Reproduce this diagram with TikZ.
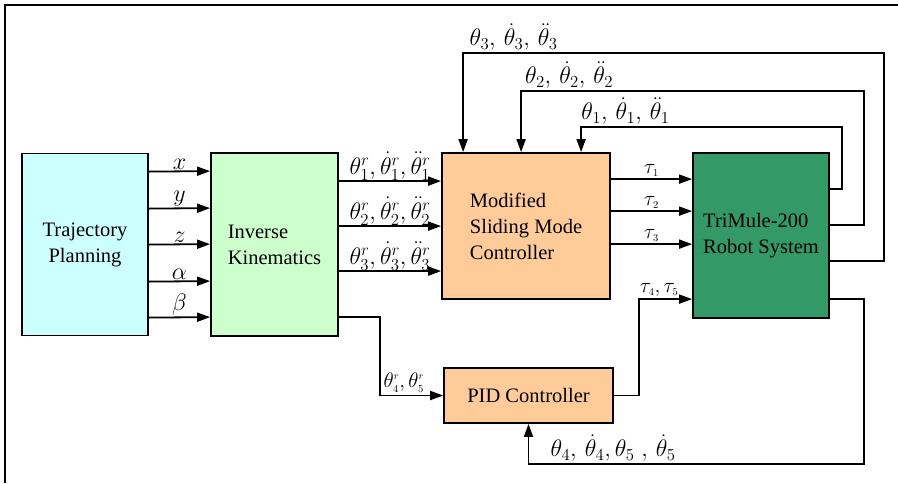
\RequirePackage{fix-cm}
\documentclass[tikz,border=0pt]{standalone}
\usepackage{fontspec}
\setmainfont{Liberation Serif}
\usepackage{tikz}
\usetikzlibrary{arrows.meta}
\definecolor{plancyan}{HTML}{CCFFFF}
\definecolor{ikgreen}{HTML}{CCFFCC}
\definecolor{ctrlorange}{HTML}{FFCC99}
\definecolor{robotgreen}{HTML}{339966}

\begin{document}
\begin{tikzpicture}[x=1pt,y=-1pt,
  blk/.style={draw,line width=1.8pt,inner sep=0pt,font=\fontsize{20.5}{26}\selectfont},
  arr/.style={line width=1.8pt,-{Triangle[length=13pt,width=9pt]}},
  lbl/.style={font=\fontsize{24}{26}\selectfont,inner sep=2pt},
  slbl/.style={font=\fontsize{21}{22}\selectfont,inner sep=2pt}]
\useasboundingbox (0,0) rectangle (898,483);
\draw[line width=2.8pt] (5,483) -- (5,5) -- (898,5);
\node[blk,fill=plancyan,minimum width=126pt,minimum height=182pt,align=center] (plan) at (85,244.5) {Trajectory\\Planning};
\node[blk,fill=ikgreen,minimum width=127pt,minimum height=183pt,align=left] (ik) at (274.5,244.5) {Inverse\\Kinematics};
\node[blk,fill=ctrlorange,minimum width=168pt,minimum height=146pt,align=left] (smc) at (526,226) {Modified\\Sliding Mode\\Controller};
\node[blk,fill=robotgreen,minimum width=136pt,minimum height=165pt,align=left] (robot) at (761,235.5) {TriMule-200\\Robot System};
\node[blk,fill=ctrlorange,minimum width=169pt,minimum height=55pt] (pid) at (528.5,395.5) {PID Controller};
\foreach \dy/\lab in {19/x,56/y,92/z,129/\alpha,165/\beta}
  \draw[arr] ([yshift=-\dy pt]plan.north east) -- node[lbl,above,inner sep=1pt]{$\lab$} ([yshift=-\dy pt]ik.north west);
\foreach \dy/\k in {29/1,74/2,119/3}
  \draw[arr] ([yshift=-\dy pt]ik.north east) -- node[lbl,above,inner sep=0pt]{$\theta_{\k}^{r},\dot{\theta}_{\k}^{r},\ddot{\theta}_{\k}^{r}$} ([yshift=-\dy pt]smc.north west);
\foreach \dy/\k in {27/1,59/2,92/3}
  \draw[arr] ([yshift=-\dy pt]smc.north east) -- node[slbl,above]{$\tau_{\scriptscriptstyle\k}$} ([yshift=-\dy pt]robot.north west);
\draw[arr] ([yshift=-165pt]ik.north east) -- ++(41,0) |- node[slbl,pos=0.69,above]{$\theta_{\scriptscriptstyle 4}^{\scriptscriptstyle r},\theta_{\scriptscriptstyle 5}^{\scriptscriptstyle r}$} (pid.west);
\draw[arr] (pid.east) -- ++(25,0) |- node[slbl,pos=0.69,above]{$\tau_{\scriptscriptstyle 4},\tau_{\scriptscriptstyle 5}$} ([yshift=-147pt]robot.north west);
\draw[arr] ([yshift=-37pt]robot.north east) -- ++(12,0) -- ++(0,-62) -| node[lbl,pos=0.415,above]{$\theta_1,\,\dot{\theta}_1,\,\ddot{\theta}_1$} ([xshift=140pt]smc.north west);
\draw[arr] ([yshift=-73pt]robot.north east) -- ++(34,0) -- ++(0,-134) -| node[lbl,pos=0.43,above]{$\theta_2,\,\dot{\theta}_2,\,\ddot{\theta}_2$} ([xshift=80pt]smc.north west);
\draw[arr] ([yshift=-109pt]robot.north east) -- ++(54,0) -- ++(0,-208) -| node[lbl,pos=0.44,above]{$\theta_3,\,\dot{\theta}_3,\,\ddot{\theta}_3$} ([xshift=22pt]smc.north west);
\draw[arr] ([yshift=-147pt]robot.north east) -- ++(34,0) -- ++(0,165) -| node[lbl,pos=0.374,above]{$\theta_4,\,\dot{\theta}_4,\theta_5\;,\,\dot{\theta}_5$} (pid.south);
\end{tikzpicture}
\end{document}
